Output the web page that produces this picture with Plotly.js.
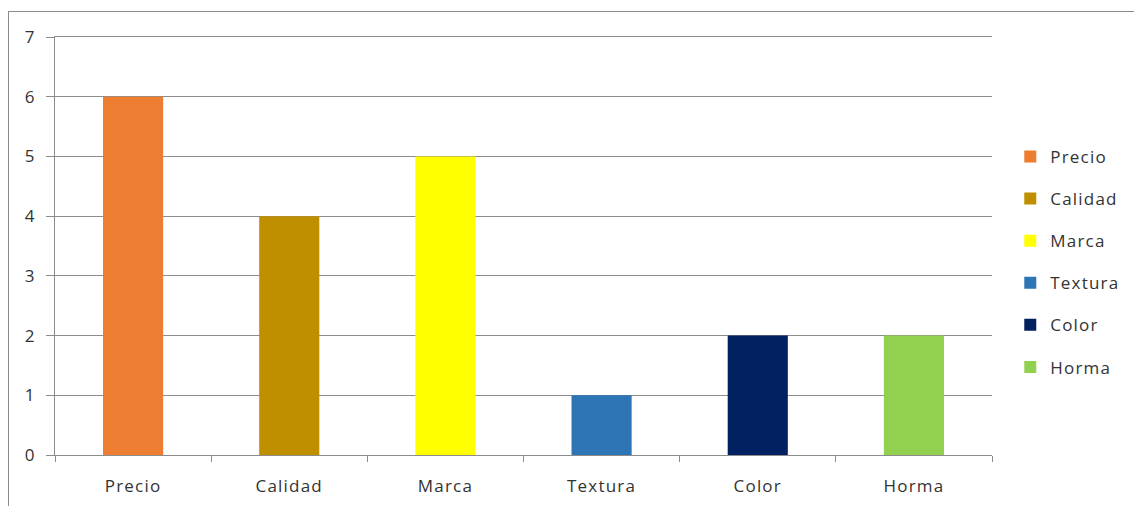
<!DOCTYPE html>
<html>
<head>
<meta charset="utf-8">
<script src="https://cdn.plot.ly/plotly-3.0.1.min.js"></script>
<style>
  html, body { margin: 0; padding: 0; background: #fff; }
  #chart { position: absolute; left: 0; top: 0; width: 1134px; height: 506px; }
  #frame { position: absolute; left: 8px; top: 11px; width: 1126px; height: 495px;
           border-left: 1px solid #8c8c8c; border-top: 1px solid #8c8c8c; pointer-events: none; }
  .xtick text, text.legendtext { letter-spacing: 1.2px; }
</style>
</head>
<body>
<div id="chart"></div>
<div id="frame"></div>
<script>
const categories = ["Precio", "Calidad", "Marca", "Textura", "Color", "Horma"];
const values = [6, 4, 5, 1, 2, 2];
const colors = ["#ED7D31", "#BF8F00", "#FFFF00", "#2E75B6", "#002060", "#92D050"];
const yTicks = [0, 1, 2, 3, 4, 5, 6, 7];

const traces = categories.map((c, i) => ({
  type: "bar",
  name: c,
  x: [c],
  y: [values[i]],
  marker: { color: colors[i], line: { width: 0 } },
  legendgroup: c,
  hoverinfo: "x+y"
}));

const layout = {
  width: 1134,
  height: 506,
  margin: { l: 55, r: 142, t: 37, b: 51, autoexpand: false },
  paper_bgcolor: "#ffffff",
  plot_bgcolor: "#ffffff",
  barmode: "overlay",
  bargap: 0.615,
  font: { family: "Open Sans, sans-serif", size: 17, color: "#333333" },
  xaxis: {
    type: "category",
    categoryorder: "array",
    categoryarray: categories,
    tickson: "boundaries",
    ticks: "outside",
    ticklen: 6,
    tickcolor: "#8c8c8c",
    showline: true,
    mirror: true,
    linecolor: "#8c8c8c",
    linewidth: 1,
    showgrid: false,
    zeroline: false,
    ticklabelstandoff: 16,
    tickfont: { size: 17, color: "#333333" }
  },
  yaxis: {
    range: [0, 7],
    tickvals: yTicks,
    ticktext: yTicks.map(String),
    ticks: "outside",
    ticklen: 8,
    tickcolor: "#8c8c8c",
    showline: true,
    linecolor: "#8c8c8c",
    linewidth: 1,
    showgrid: true,
    gridcolor: "#8c8c8c",
    gridwidth: 1,
    zeroline: false,
    ticklabelstandoff: 8,
    tickfont: { size: 17, color: "#333333" }
  },
  showlegend: true,
  legend: {
    x: 1.0195,
    xanchor: "left",
    y: 0.462,
    yanchor: "middle",
    itemwidth: 30,
    tracegroupgap: 17,
    traceorder: "grouped",
    font: { size: 17, color: "#333333" },
    bgcolor: "rgba(0,0,0,0)"
  }
};

Plotly.newPlot("chart", traces, layout, { displayModeBar: false, staticPlot: true });
</script>
</body>
</html>
